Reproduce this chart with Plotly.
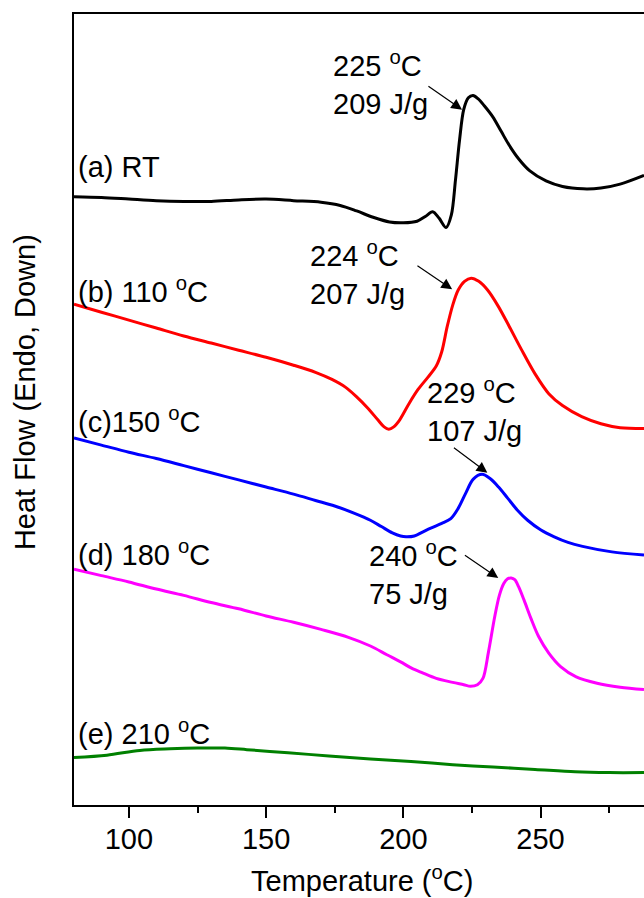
import plotly.graph_objects as go

# DSC heating scans (heat flow in arbitrary units, endotherm down)
t_rt = [80, 90, 100, 110, 120, 130, 140, 150, 160, 170, 177, 183, 189, 195, 200, 205, 208,
        210.7, 213, 215.6, 217.5, 219, 220.5, 222, 223.7, 225.4, 227.2, 229.5, 232.6, 235.6,
        238.6, 242, 246, 252, 258, 265.5, 272, 279, 287.7]
hf_rt = [7.69, 7.68, 7.66, 7.64, 7.63, 7.63, 7.65, 7.66, 7.64, 7.62, 7.58, 7.51, 7.43, 7.37,
         7.36, 7.38, 7.44, 7.50, 7.42, 7.30, 7.46, 7.90, 8.41, 8.79, 8.94, 8.97, 8.93, 8.84,
         8.70, 8.52, 8.34, 8.17, 8.02, 7.89, 7.82, 7.79, 7.80, 7.85, 7.96]

t_110 = [80, 90, 100, 110, 120, 130, 140, 150, 160, 168, 174, 179, 183, 187, 190.7, 193,
         194.7, 196.5, 198.7, 202, 205.3, 209, 212, 214, 216, 218, 220, 222.3, 224.7, 227.5,
         230.7, 234.5, 238.6, 243, 248, 253, 258, 265, 272, 279, 287.7]
hf_110 = [6.33, 6.23, 6.13, 6.03, 5.93, 5.84, 5.75, 5.66, 5.56, 5.47, 5.38, 5.28, 5.16, 5.02,
          4.87, 4.78, 4.75, 4.78, 4.87, 5.07, 5.25, 5.41, 5.55, 5.73, 6.05, 6.32, 6.51, 6.62,
          6.66, 6.62, 6.51, 6.31, 6.05, 5.76, 5.45, 5.20, 5.05, 4.91, 4.82, 4.77, 4.76]

t_150 = [80, 90, 100, 110, 120, 130, 140, 150, 160, 168, 175, 182, 188, 192, 196, 199, 201,
         204, 207, 210, 214, 217.3, 220, 222.7, 225.5, 228.7, 231.5, 234.7, 238, 241.5, 245.3,
         250, 255, 260, 265.3, 276, 287.7]
hf_150 = [4.64, 4.55, 4.46, 4.38, 4.29, 4.20, 4.11, 4.02, 3.93, 3.85, 3.78, 3.69, 3.60, 3.52,
          3.44, 3.40, 3.39, 3.40, 3.45, 3.50, 3.56, 3.62, 3.75, 3.94, 4.12, 4.18, 4.13, 4.02,
          3.88, 3.73, 3.60, 3.48, 3.39, 3.32, 3.27, 3.20, 3.16]

t_180 = [80, 90, 100, 110, 120, 130, 140, 150, 160, 170, 180, 188, 194, 199, 203, 207, 212,
         218, 222, 224.5, 227, 229, 231, 233.3, 235, 236.6, 238, 239.3, 240.6, 242, 244, 246.5,
         249.3, 253, 257.3, 263, 270.6, 279, 287.7]
hf_180 = [2.98, 2.90, 2.82, 2.73, 2.65, 2.56, 2.48, 2.39, 2.31, 2.22, 2.12, 2.01, 1.90, 1.81,
          1.73, 1.67, 1.60, 1.55, 1.52, 1.50, 1.52, 1.60, 1.93, 2.38, 2.65, 2.80, 2.86, 2.87,
          2.85, 2.76, 2.59, 2.36, 2.13, 1.92, 1.75, 1.62, 1.54, 1.49, 1.46]

t_210 = [80, 92, 104, 115, 125, 135, 143, 158, 172.9, 188, 202.8, 218, 232.7, 248, 262.6, 275, 287.7]
hf_210 = [0.60, 0.63, 0.69, 0.71, 0.72, 0.72, 0.70, 0.66, 0.62, 0.58, 0.55, 0.51, 0.48, 0.45,
          0.42, 0.41, 0.41]

curves = [
    (t_rt, hf_rt, "#000000", "(a) RT"),
    (t_110, hf_110, "#ff0000", "(b) 110 <sup>o</sup>C"),
    (t_150, hf_150, "#0000ff", "(c)150 <sup>o</sup>C"),
    (t_180, hf_180, "#ff00ff", "(d) 180 <sup>o</sup>C"),
    (t_210, hf_210, "#008000", "(e) 210 <sup>o</sup>C"),
]

# Melting peak annotations: peak temperature and enthalpy
peak_temp = [225, 224, 229, 240]
peak_enthalpy = [209, 207, 107, 75]

FONT = "Liberation Sans, Arial, sans-serif"
FS = 29

fig = go.Figure()
for t, hf, color, name in curves:
    fig.add_trace(go.Scatter(x=t, y=hf, mode="lines", name=name,
                             line=dict(color=color, width=3, shape="spline", smoothing=0.9),
                             showlegend=False, hoverinfo="skip"))

annotations = []

# curve labels at the left edge
label_y = [8.07, 6.51, 4.87, 3.19, 0.92]
for (t, hf, color, name), yv in zip(curves, label_y):
    annotations.append(dict(x=80.6, y=yv, xref="x", yref="y", text=name, showarrow=False,
                            xanchor="left", yanchor="middle",
                            font=dict(family=FONT, size=FS, color="black")))

# peak labels and arrows
text_pos = [(173.5, 9.13), (165.3, 6.73), (207.9, 4.99), (186.8, 2.93)]
arrow_tail = [(208.6, 9.10), (204.6, 6.83), (217.9, 4.53), (221.9, 3.17)]
arrow_head = [(221.4, 8.79), (217.8, 6.52), (230.6, 4.20), (234.6, 2.87)]
for tp, dh, (tx, ty), (ax, ay), (hx, hy) in zip(peak_temp, peak_enthalpy, text_pos,
                                                  arrow_tail, arrow_head):
    annotations.append(dict(x=tx, y=ty, xref="x", yref="y",
                            text=f"{tp} <sup>o</sup>C<br>{dh} J/g", align="left",
                            showarrow=False, xanchor="left", yanchor="middle",
                            font=dict(family=FONT, size=FS, color="black")))
    annotations.append(dict(x=hx, y=hy, xref="x", yref="y", ax=ax, ay=ay,
                            axref="x", ayref="y", text="", showarrow=True,
                            arrowhead=2, arrowsize=1.8, arrowwidth=1.2,
                            arrowcolor="black", standoff=0, startstandoff=0))

# axis titles
annotations.append(dict(x=-0.086, y=0.522, xref="paper", yref="paper",
                        text="Heat Flow (Endo, Down)", textangle=-90, showarrow=False,
                        xanchor="center", yanchor="middle",
                        font=dict(family=FONT, size=FS, color="black")))
annotations.append(dict(x=0.505, y=-0.094, xref="paper", yref="paper",
                        text="Temperature (<sup>o</sup>C)", showarrow=False,
                        xanchor="center", yanchor="middle",
                        font=dict(family=FONT, size=FS, color="black")))

fig.update_layout(
    width=644, height=898,
    margin=dict(l=74, r=0, t=14, b=93, autoexpand=False),
    paper_bgcolor="white", plot_bgcolor="white",
    font=dict(family=FONT, size=FS, color="black"),
    annotations=annotations,
    xaxis=dict(range=[80, 287.7], showgrid=False, zeroline=False,
               showline=True, linecolor="black", linewidth=2, mirror=True,
               ticks="outside", ticklen=11, tickwidth=2, tickcolor="black",
               tickvals=[100, 150, 200, 250], ticklabelstandoff=-4,
               minor=dict(tickvals=[125, 175, 225, 275], ticks="outside",
                          ticklen=6, tickwidth=2, tickcolor="black"),
               tickfont=dict(family=FONT, size=FS, color="black")),
    yaxis=dict(range=[0, 10], showgrid=False, zeroline=False,
               showline=True, linecolor="black", linewidth=2, mirror=False,
               showticklabels=False, ticks=""),
)

fig.write_html("out.html")
